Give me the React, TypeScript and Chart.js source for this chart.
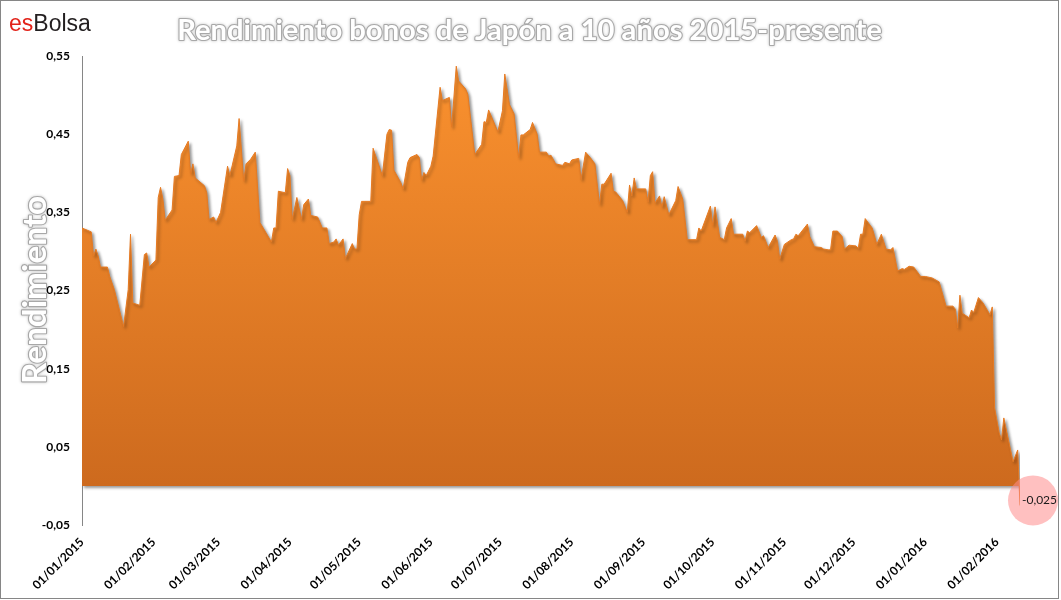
import React, { useEffect, useRef } from 'react';
import { Chart, registerables } from 'chart.js';

Chart.register(...registerables);

const TITLE = 'Rendimiento bonos de Japón a 10 años 2015-presente';
const Y_TITLE = 'Rendimiento';
const START_DATE = '2015-01-01';

// days elapsed since START_DATE
const dayOffsets = [
  0, 4, 5, 6, 7, 8, 11, 12, 14, 18, 20, 21, 22, 25, 27, 28, 29, 32, 33, 34, 35, 36, 39, 40, 42, 43, 46, 47, 48, 49,
  53, 54, 55, 57, 58, 60, 63, 64, 67, 68, 70, 71, 73, 75, 77, 82, 83, 84, 85, 88, 89, 90, 91, 93, 95, 96, 98, 99,
  102, 104, 106, 107, 109, 110, 111, 113, 114, 117, 118, 119, 120, 121, 125, 126, 130, 132, 133, 134, 135, 138,
  139, 141, 142, 145, 146, 147, 148, 149, 151, 152, 155, 156, 159, 160, 162, 163, 166, 167, 170, 173, 174, 175,
  176, 180, 182, 183, 185, 187, 189, 190, 191, 194, 195, 197, 198, 201, 202, 203, 205, 208, 209, 211, 212, 215,
  216, 218, 220, 222, 224, 225, 226, 229, 230, 231, 234, 236, 237, 238, 239, 240, 244, 245, 246, 247, 248, 250,
  251, 252, 254, 257, 258, 260, 262, 266, 267, 268, 272, 273, 274, 276, 278, 279, 281, 282, 286, 287, 288, 289,
  292, 294, 295, 297, 300, 301, 302, 304, 307, 308, 309, 310, 314, 315, 317, 320, 321, 323, 324, 325, 327, 329,
  330, 332, 335, 336, 337, 338, 339, 342, 343, 344, 346, 348, 350, 351, 353, 355, 356, 358, 360, 363, 365, 368,
  371, 374, 377, 378, 379, 380, 381, 384, 385, 386, 388, 390, 393, 394, 395, 397, 398, 399, 401, 403, 405, 406,
];

const yields = [
  0.330, 0.325, 0.294, 0.303, 0.294, 0.280, 0.280, 0.268, 0.251, 0.204, 0.251, 0.322, 0.234, 0.231, 0.296, 0.298,
  0.280, 0.289, 0.369, 0.382, 0.367, 0.340, 0.353, 0.396, 0.397, 0.424, 0.441, 0.399, 0.412, 0.394,
  0.384, 0.375, 0.341, 0.344, 0.337, 0.350, 0.409, 0.397, 0.435, 0.470, 0.390, 0.412, 0.418, 0.427, 0.337, 0.312,
  0.330, 0.330, 0.377, 0.375, 0.406, 0.397, 0.341, 0.369, 0.341, 0.360, 0.367, 0.346,
  0.344, 0.330, 0.330, 0.310, 0.312, 0.316, 0.308, 0.316, 0.291, 0.310, 0.303, 0.303, 0.347, 0.364, 0.364, 0.432,
  0.397, 0.450, 0.456, 0.455, 0.404, 0.388,
  0.380, 0.414, 0.420, 0.424, 0.420, 0.391, 0.401, 0.397, 0.409, 0.422, 0.510, 0.493, 0.497, 0.459, 0.537, 0.518,
  0.508, 0.501, 0.424, 0.437, 0.466, 0.465,
  0.481, 0.453, 0.480, 0.527, 0.488, 0.476, 0.420, 0.449, 0.449, 0.456, 0.465, 0.450, 0.427, 0.427, 0.422, 0.423,
  0.412, 0.410, 0.414, 0.412, 0.417, 0.419,
  0.392, 0.427, 0.420, 0.412, 0.360, 0.386, 0.386, 0.400, 0.377, 0.376, 0.365, 0.350, 0.385, 0.371, 0.394, 0.380,
  0.380, 0.363, 0.397, 0.402, 0.362, 0.371,
  0.357, 0.370, 0.347, 0.365, 0.383, 0.367, 0.315, 0.315, 0.330, 0.326, 0.358, 0.333, 0.357, 0.318, 0.315, 0.330,
  0.342, 0.322, 0.322, 0.313, 0.326, 0.324,
  0.333, 0.318, 0.320, 0.305, 0.321, 0.313, 0.290, 0.309, 0.315, 0.316, 0.322, 0.320, 0.335, 0.319, 0.306, 0.305,
  0.303, 0.302, 0.302, 0.326, 0.326, 0.319,
  0.303, 0.308, 0.307, 0.304, 0.322, 0.322, 0.342, 0.330, 0.320, 0.309, 0.322, 0.303, 0.302, 0.305, 0.275, 0.278,
  0.277, 0.281, 0.280, 0.268, 0.268, 0.266,
  0.261, 0.230, 0.230, 0.226, 0.202, 0.244, 0.221, 0.215, 0.225, 0.222, 0.241, 0.234, 0.219, 0.229, 0.100, 0.068,
  0.059, 0.087, 0.059, 0.031, 0.046, -0.025,
];

const xTickLabels = [
  '01/01/2015', '01/02/2015', '01/03/2015', '01/04/2015', '01/05/2015', '01/06/2015', '01/07/2015',
  '01/08/2015', '01/09/2015', '01/10/2015', '01/11/2015', '01/12/2015', '01/01/2016', '01/02/2016',
];
const yTickValues = [-0.05, 0.05, 0.15, 0.25, 0.35, 0.45, 0.55];
const LAST_LABEL = '-0,025';

const startMs = Date.parse(START_DATE + 'T00:00:00Z');
const labelToDay = (s: string) => {
  const [d, m, y] = s.split('/').map(Number);
  return Math.round((Date.UTC(y, m - 1, d) - startMs) / 86400000);
};
const xTickDays = xTickLabels.map(labelToDay);
const points = dayOffsets.map((d, i) => ({ x: d, y: yields[i] }));

const fitFont = (ctx: CanvasRenderingContext2D, text: string, family: string, weight: string, width: number) => {
  ctx.font = `${weight} 40px ${family}`;
  const w = ctx.measureText(text).width;
  return (40 * width) / w;
};

const decorPlugin = {
  id: 'decor',
  beforeDatasetsDraw(chart: any) {
    const ctx = chart.ctx;
    ctx.save();
    ctx.shadowColor = 'rgba(0,0,0,0.4)';
    ctx.shadowBlur = 3;
    ctx.shadowOffsetX = 2;
    ctx.shadowOffsetY = 2;
  },
  afterDatasetsDraw(chart: any) {
    chart.ctx.restore();
  },
  afterDraw(chart: any) {
    const ctx: CanvasRenderingContext2D = chart.ctx;
    ctx.save();
    // frame
    ctx.strokeStyle = '#868686';
    ctx.lineWidth = 1;
    ctx.strokeRect(0.5, 0.5, 1058, 598);

    // logo
    ctx.textAlign = 'left';
    ctx.textBaseline = 'alphabetic';
    ctx.font = '23px "Liberation Sans", Arial, sans-serif';
    ctx.fillStyle = '#e2231a';
    ctx.fillText('es', 9, 31);
    const w = ctx.measureText('es').width;
    ctx.fillStyle = '#231f20';
    ctx.fillText('Bolsa', 9 + w, 31);

    // title
    const fam = 'Lato, "Open Sans", sans-serif';
    let size = fitFont(ctx, TITLE, fam, 'bold', 705);
    ctx.font = `bold ${size}px ${fam}`;
    ctx.textAlign = 'center';
    ctx.lineJoin = 'round';
    ctx.shadowColor = 'rgba(0,0,0,0.25)';
    ctx.shadowBlur = 3;
    ctx.strokeStyle = '#a8a8a8';
    ctx.lineWidth = 2.2;
    ctx.strokeText(TITLE, 529.5, 40);
    ctx.shadowBlur = 0;
    ctx.shadowColor = 'transparent';
    ctx.fillStyle = '#ffffff';
    ctx.fillText(TITLE, 529.5, 40);

    // y title
    size = fitFont(ctx, Y_TITLE, fam, 'bold', 188);
    ctx.save();
    ctx.translate(46, 290);
    ctx.rotate(-Math.PI / 2);
    ctx.font = `bold ${size}px ${fam}`;
    ctx.shadowColor = 'rgba(0,0,0,0.25)';
    ctx.shadowBlur = 3;
    ctx.strokeStyle = '#a8a8a8';
    ctx.lineWidth = 2.2;
    ctx.strokeText(Y_TITLE, 0, 0);
    ctx.shadowBlur = 0;
    ctx.shadowColor = 'transparent';
    ctx.fillStyle = '#ffffff';
    ctx.fillText(Y_TITLE, 0, 0);
    ctx.restore();

    // last value annotation
    const xs = chart.scales.x;
    const ys = chart.scales.y;
    const last = points[points.length - 1];
    const px = xs.getPixelForValue(last.x);
    const py = ys.getPixelForValue(last.y);
    ctx.beginPath();
    ctx.arc(px + 13, py - 5, 25, 0, Math.PI * 2);
    ctx.fillStyle = 'rgba(255, 140, 140, 0.55)';
    ctx.fill();
    ctx.font = '12px Lato, "Open Sans", sans-serif';
    ctx.fillStyle = '#1a1a1a';
    ctx.textAlign = 'left';
    ctx.textBaseline = 'middle';
    ctx.fillText(LAST_LABEL, px + 2, py - 5);
    ctx.restore();
  },
};

export default function App() {
  const ref = useRef<HTMLCanvasElement | null>(null);
  useEffect(() => {
    if (!ref.current) return;
    const chart = new Chart(ref.current, {
      type: 'line',
      data: {
        datasets: [
          {
            data: points,
            fill: 'origin',
            borderColor: '#e67a22',
            borderWidth: 1,
            pointRadius: 0,
            tension: 0,
            backgroundColor: (c: any) => {
              const ch = c.chart;
              const area = ch.chartArea;
              if (!area) return '#ee8529';
              const zero = ch.scales.y.getPixelForValue(0);
              const g = ch.ctx.createLinearGradient(0, area.top, 0, zero);
              g.addColorStop(0, '#fb922f');
              g.addColorStop(1, '#cd6a1e');
              return g;
            },
          },
        ],
      },
      options: {
        responsive: false,
        animation: false,
        events: [],
        layout: { padding: { top: 56, right: 41, bottom: 0, left: 0 } },
        plugins: { legend: { display: false }, tooltip: { enabled: false } },
        scales: {
          x: {
            type: 'linear',
            min: 0,
            max: dayOffsets[dayOffsets.length - 1],
            grid: { display: false, drawTicks: false },
            border: { display: false },
            afterBuildTicks: (s: any) => {
              s.ticks = xTickDays.map((v) => ({ value: v }));
            },
            afterFit: (s: any) => {
              s.height = 75;
            },
            ticks: {
              autoSkip: false,
              minRotation: 45,
              maxRotation: 45,
              padding: 10,
              color: '#000',
              font: { family: 'Lato, "Open Sans", sans-serif', size: 12, weight: 'bold' },
              callback: (_v: any, i: number) => xTickLabels[i],
            },
          },
          y: {
            type: 'linear',
            min: -0.05,
            max: 0.55,
            grid: { display: false, drawTicks: false },
            border: { display: true, color: '#868686', width: 1 },
            afterBuildTicks: (s: any) => {
              s.ticks = yTickValues.map((v) => ({ value: v }));
            },
            afterFit: (s: any) => {
              s.width = 82;
            },
            ticks: {
              padding: 12,
              color: '#000',
              font: { family: 'Lato, "Open Sans", sans-serif', size: 12, weight: 'bold' },
              callback: (v: any) => Number(v).toFixed(2).replace('.', ','),
            },
          },
        },
      },
      plugins: [decorPlugin],
    });
    return () => chart.destroy();
  }, []);
  return (
    <div style={{ position: 'absolute', left: 0, top: 0, width: 1061, height: 600, background: '#fff' }}>
      <canvas ref={ref} width={1061} height={600} />
    </div>
  );
}
